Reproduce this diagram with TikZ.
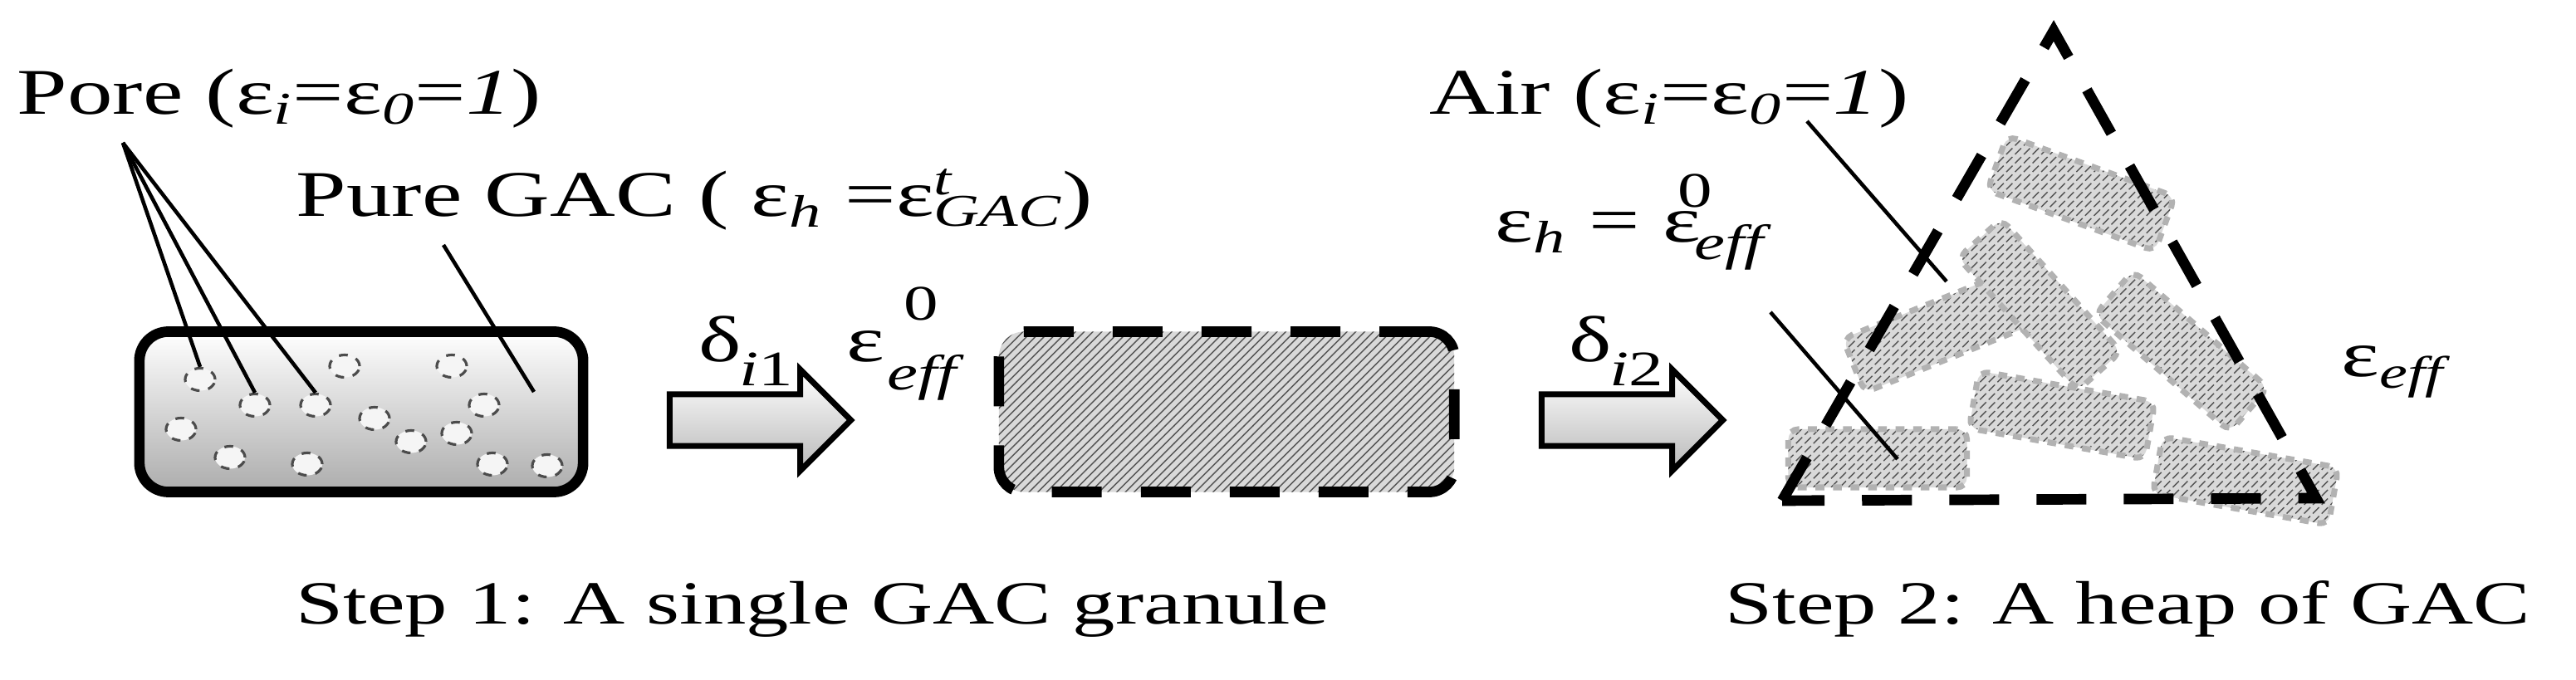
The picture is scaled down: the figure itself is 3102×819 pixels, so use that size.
\documentclass[tikz,border=0pt]{standalone}
\usepackage{fontspec}
\setmainfont[FakeStretch=1.39]{Liberation Serif}
\usetikzlibrary{positioning, shapes.arrows, shapes.geometric, patterns}

\begin{document}
\begin{tikzpicture}[x=0.01cm, y=-0.01cm, font=\fontsize{22.3}{26}\selectfont,
    granule/.style={draw, line width=3.6pt, rounded corners=0.35cm, top color=white, bottom color=gray!65},
    pore/.style={ellipse, draw=gray!60!black, dashed, line width=0.9pt, fill=white!92!gray, minimum width=0.36cm, minimum height=0.27cm, inner sep=0pt},
    hatched/.style={preaction={fill=gray!30}, pattern=north east lines, pattern color=gray!65!black},
    heap/.style={hatched, draw=gray!60, dashed, line width=2pt, rounded corners=0.12cm, minimum width=2.15cm, minimum height=0.7cm, inner sep=0pt},
    bigarrow/.style={single arrow, draw, line width=2pt, top color=white, bottom color=gray!55, minimum height=2.18cm, single arrow head extend=0.3cm, inner sep=0pt},
    leader/.style={line width=1.3pt},
    lbl/.style={anchor=base west, inner sep=0pt},
    small/.style={font=\fontsize{17}{20}\selectfont},
    caption/.style={lbl, font=\fontsize{21}{25}\selectfont}]
        \useasboundingbox (0,0) rectangle (3102,819);

        % Step 1: a single granule
        \node[granule, minimum width=5.34cm, minimum height=1.93cm] (gac) at (435,496) {};
        \foreach \x/\y [count=\n] in {241/457, 307/488, 380/488, 415/441, 544/441, 583/488, 451/504,
                                      218/517, 495/532, 550/522, 277/551, 370/559, 593/559, 659/561} {
            \node[pore] (pore\n) at (\x,\y) {};
        }
        \node[lbl] (porelbl) at (20,138) {Pore (ε\textsubscript{\textit{i}}=ε\textsubscript{\textit{0}}=\textit{1})};
        \node[lbl] (purelbl) at (356,261) {Pure GAC ( ε\textsubscript{\textit{h}} =ε\rlap{\textsuperscript{\textit{t}}}\textsubscript{\textit{GAC}})};
        \coordinate (porefoot) at (148,172);
        \coordinate (purefoot) at (534,295);
        \foreach \n in {1,2,3} {
            \draw[leader] (porefoot) -- (pore\n.north);
        }
        \draw[leader] (purefoot) -- (643,472) coordinate (puretip);

        % Homogenisation of the granule
        \node[bigarrow] (arrow1) at (900,506) {\rule{0pt}{0.55cm}};
        \node[lbl] (delta1) at (841,436) {δ};
        \node[lbl, small] at (890,465) {\textit{i}1};
        \node[lbl] (eps0) at (1019,436) {ε};
        \node[lbl, small] at (1088,386) {0};
        \node[lbl, small, font=\fontsize{17}{20}\selectfont\itshape] at (1068,470) {eff};
        \node[hatched, draw, dashed, dash pattern=on 0.6cm off 0.47cm, line width=3.6pt, rounded corners=0.3cm,
              minimum width=5.48cm, minimum height=1.93cm] (granule) at (1477,496) {};

        % Step 2: a heap of granules
        \node[bigarrow] (arrow2) at (1950,506) {\rule{0pt}{0.55cm}};
        \node[lbl] (delta2) at (1889,436) {δ};
        \node[lbl, small] at (1938,465) {\textit{i}2};
        \node[heap] (h1) at (2261,552) {};
        \node[heap, rotate=-20] (h2) at (2506,233) {};
        \node[heap, rotate=22] (h4) at (2332,400) {};
        \node[heap, rotate=-48] (h3) at (2456,367) {};
        \node[heap, rotate=-41] (h5) at (2627,423) {};
        \node[heap, rotate=-10] (h6) at (2483,500) {};
        \node[heap, rotate=-10] (h7) at (2704,579) {};
        \coordinate (apex) at (2473,37);
        \coordinate (left) at (2146,603);
        \coordinate (right) at (2789,600);
        \draw[line width=3.6pt, dash pattern=on 0.6cm off 0.45cm] (left) -- (apex) -- (right) -- cycle;
        \node[lbl] (airlbl) at (1721,138) {Air (ε\textsubscript{\textit{i}}=ε\textsubscript{\textit{0}}=\textit{1})};
        \node[lbl] (hostlbl) at (1800,292) {ε\textsubscript{\textit{h}} = ε};
        \node[lbl, small] at (2020,250) {0};
        \node[lbl, small, font=\fontsize{17}{20}\selectfont\itshape] at (2040,313) {eff};
        \node[lbl] (effl) at (2819,454) {ε\textsubscript{\textit{eff}}};
        \draw[leader] (2176,146) -- (2344,339);
        \draw[leader] (2132,376) -- (2285,553);

        % Captions
        \node[caption] (cap1) at (356,752) {Step 1: A single GAC granule};
        \node[caption] (cap2) at (2077,752) {Step 2: A heap of GAC};
\end{tikzpicture}
\end{document}
